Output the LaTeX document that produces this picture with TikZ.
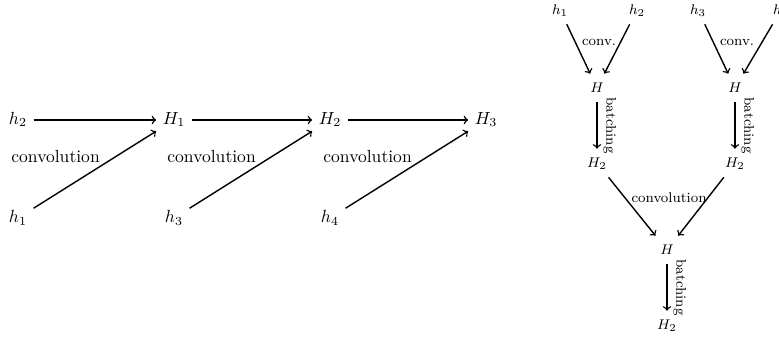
\documentclass[tikz,border=0pt]{standalone}
\usepackage{amsmath}
\usepackage{amssymb}

\tikzset{
  obj/.style={text height=1.6ex, text depth=0.45ex},
  lab/.style={inner sep=1pt}
}

\begin{document}
\begin{tikzpicture}[x=0.2mm,y=-0.2mm,thick]
  \useasboundingbox (0,0) rectangle (779,339);
  % chain of convolutions
  \node[obj] (h2) at (18,120) {\(h_2\)};
  \node[obj] (H1) at (174,120) {\(H_1\)};
  \node[obj] (H2) at (330,120) {\(H_2\)};
  \node[obj] (H3) at (486,120) {\(H_3\)};
  \node[obj] (h1) at (18,218) {\(h_1\)};
  \node[obj] (h3) at (174,218) {\(h_3\)};
  \node[obj] (h4) at (330,218) {\(h_4\)};
  \draw[->] (h2) -- (H1);
  \draw[->] (H1) -- (H2);
  \draw[->] (H2) -- (H3);
  \draw[->] (h1) -- (H1) node[lab,pos=0.56,anchor=south east] {convolution};
  \draw[->] (h3) -- (H2) node[lab,pos=0.56,anchor=south east] {convolution};
  \draw[->] (h4) -- (H3) node[lab,pos=0.56,anchor=south east] {convolution};
  % tree with batching
  \begin{scope}[font=\footnotesize]
    \node[obj] (t1) at (560,10) {\(h_1\)};
    \node[obj] (t2) at (637,10) {\(h_2\)};
    \node[obj] (t3) at (698,10) {\(h_3\)};
    \node[obj] (t4) at (781,10) {\(h_4\)};
    \node[obj] (Ha) at (597,88) {\(H\)};
    \node[obj] (Hb) at (735,88) {\(H\)};
    \node[obj] (Ja) at (597,163) {\(H_2\)};
    \node[obj] (Jb) at (735,163) {\(H_2\)};
    \node[obj] (Hc) at (667,250) {\(H\)};
    \node[obj] (Jc) at (667,325) {\(H_2\)};
    \draw[->] (t1) -- (Ha) node[pos=0.37,right] {conv.};
    \draw[->] (t2) -- (Ha);
    \draw[->] (t3) -- (Hb) node[pos=0.37,right] {conv.};
    \draw[->] (t4) -- (Hb);
    \draw[->] (Ha) -- (Ja) node[midway,anchor=south,rotate=-90] {batching};
    \draw[->] (Hb) -- (Jb) node[midway,anchor=south,rotate=-90] {batching};
    \draw[->] (Ja) -- (Hc) node[pos=0.35,right] {convolution};
    \draw[->] (Jb) -- (Hc);
    \draw[->] (Hc) -- (Jc) node[midway,anchor=south,rotate=-90] {batching};
  \end{scope}
\end{tikzpicture}
\end{document}
